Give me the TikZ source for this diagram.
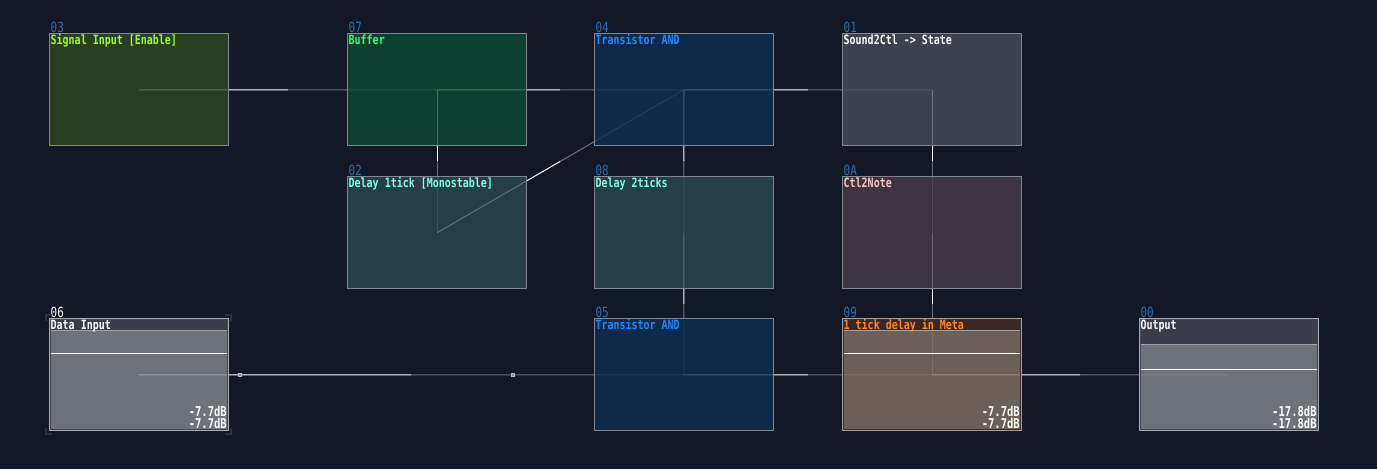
\documentclass[tikz,border=0pt]{standalone}
\usepackage{fontspec}
\usetikzlibrary{calc}
\newfontfamily\pix{DejaVu Sans Mono}[FakeStretch=0.78]
\definecolor{bgc}{HTML}{131826}
\definecolor{bord}{HTML}{80888F}
\definecolor{meterbord}{HTML}{A8AAB2}
\definecolor{meterbordb}{HTML}{AA9C98}
\definecolor{cold}{HTML}{6B707C}
\definecolor{idblue}{HTML}{2E6DB0}
\definecolor{fSig}{HTML}{304B23}
\definecolor{fBuf}{HTML}{0F4B33}
\definecolor{fAnd}{HTML}{0F2E54}
\definecolor{fCtl}{HTML}{494D58}
\definecolor{fDel}{HTML}{2B4951}
\definecolor{fNote}{HTML}{483D49}
\definecolor{hGray}{HTML}{444653}
\definecolor{bGray}{HTML}{858991}
\definecolor{hBrown}{HTML}{452D22}
\definecolor{bBrown}{HTML}{827167}
\definecolor{sepc}{HTML}{A0A2AA}
\definecolor{tSig}{HTML}{9CFF1A}
\definecolor{tBuf}{HTML}{33FF6A}
\definecolor{tAnd}{HTML}{1A8CFF}
\definecolor{tDel}{HTML}{80FFE0}
\definecolor{tNote}{HTML}{FFC4C0}
\definecolor{tMeta}{HTML}{FF8A1A}
\definecolor{dotc}{HTML}{8C909C}
\definecolor{selc}{HTML}{2C3040}
\pgfdeclarelayer{bglayer}
\pgfdeclarelayer{linklayer}
\pgfsetlayers{bglayer,linklayer,main}
\newcommand{\svmod}[7]{%
  \node[modbox, fill=#4] (#1) at (#3) {};
  \node[idlab, text=#7] at ([xshift=1pt,yshift=1.5pt]#1.north west) {#2};
  \node[titlelab, text=#5] at ([xshift=1pt,yshift=-10.5pt]#1.north west) {#6};
}
\newcommand{\svlink}[2]{%
  \begin{pgfonlayer}{linklayer}
    \draw[linkhot] (#1.center) -- ($(#1.center)!0.5!(#2.center)$);
    \draw[linkcold] ($(#1.center)!0.5!(#2.center)$) -- (#2.center);
  \end{pgfonlayer}
}
\newcommand{\svmeter}[6]{%
  \begin{scope}[xshift=#1pt]
    \fill[#2, fill opacity=0.8] (50,319.3) rectangle (228,#4);
    \fill[#3, fill opacity=0.8] (50,#4) rectangle (228,430.3);
    \draw[#2, line width=1pt] (50.5,319.8) rectangle (227.5,429.8);
    \draw[sepc, line width=1pt] (51,#4) -- (227,#4);
    \draw[white, line width=1pt] (51,#5) -- (227,#5);
    \draw[#6, line width=1pt] (49.5,318.8) rectangle (228.5,430.8);
  \end{scope}
}
\begin{document}
\begin{tikzpicture}[x=1pt,y=-1pt,
  modbox/.style={draw=bord, line width=1pt, minimum width=179pt, minimum height=112pt,
    inner sep=0pt, outer sep=0pt, fill opacity=0.78, draw opacity=1},
  meterbox/.style={minimum width=179pt, minimum height=112pt,
    inner sep=0pt, outer sep=0pt},
  idlab/.style={font=\pix\fontsize{14}{14}\selectfont, inner sep=0pt, anchor=base west},
  titlelab/.style={font=\pix\bfseries\fontsize{12.8}{13}\selectfont, inner sep=0pt, anchor=base west},
  dblab/.style={font=\pix\bfseries\fontsize{13.5}{14}\selectfont, inner sep=0pt, anchor=base east, text=white},
  linkhot/.style={draw=white, line width=1pt},
  linkcold/.style={draw=cold, line width=1pt},
  dotbox/.style={fill=dotc, draw=dotc!60!white, line width=0.5pt, minimum size=3pt, inner sep=0pt},
  selmark/.style={draw=selc, line width=2pt}
]
\begin{pgfonlayer}{bglayer}
  \fill[bgc] (0,0) rectangle (1377,469);
\end{pgfonlayer}
\useasboundingbox (0,0) rectangle (1377,469);

% top row
\svmod{m03}{03}{139,89.8}{fSig}{tSig}{Signal Input [Enable]}{idblue}
\svmod{m07}{07}{437,89.8}{fBuf}{tBuf}{Buffer}{idblue}
\svmod{m04}{04}{683.8,89.8}{fAnd}{tAnd}{Transistor AND}{idblue}
\svmod{m01}{01}{932,89.8}{fCtl}{white}{Sound2Ctl -> State}{idblue}
% middle row
\svmod{m02}{02}{437,232.8}{fDel}{tDel}{Delay 1tick [Monostable]}{idblue}
\svmod{m08}{08}{683.8,232.8}{fDel}{tDel}{Delay 2ticks}{idblue}
\svmod{m0A}{0A}{932,232.8}{fNote}{tNote}{Ctl2Note}{idblue}
% bottom row
\svmod{m05}{05}{683.8,374.8}{fAnd}{tAnd}{Transistor AND}{idblue}

% meter modules
\node[meterbox] (m06) at (139,374.8) {};
\svmeter{0}{hGray}{bGray}{330.5}{353.5}{meterbord}
\node[idlab, text=white] at ([xshift=1pt,yshift=1.5pt]m06.north west) {06};
\node[titlelab, text=white] at ([xshift=1pt,yshift=-10.5pt]m06.north west) {Data Input};
\node[dblab] at ([xshift=-1.5pt,yshift=14.8pt]m06.south east) {-7.7dB};
\node[dblab] at ([xshift=-1.5pt,yshift=2.8pt]m06.south east) {-7.7dB};
\draw[selmark] (46,321) -- (46,315) -- (52,315);
\draw[selmark] (225,315) -- (231,315) -- (231,321);
\draw[selmark] (46,428) -- (46,434) -- (52,434);
\draw[selmark] (225,434) -- (231,434) -- (231,428);

\node[meterbox] (m09) at (932,374.8) {};
\svmeter{793}{hBrown}{bBrown}{330.5}{353.5}{meterbordb}
\node[idlab, text=idblue] at ([xshift=1pt,yshift=1.5pt]m09.north west) {09};
\node[titlelab, text=tMeta] at ([xshift=1pt,yshift=-10.5pt]m09.north west) {1 tick delay in Meta};
\node[dblab] at ([xshift=-1.5pt,yshift=14.8pt]m09.south east) {-7.7dB};
\node[dblab] at ([xshift=-1.5pt,yshift=2.8pt]m09.south east) {-7.7dB};

\node[meterbox] (m00) at (1228.8,374.8) {};
\svmeter{1089.8}{hGray}{bGray}{344.5}{369.5}{meterbord}
\node[idlab, text=idblue] at ([xshift=1pt,yshift=1.5pt]m00.north west) {00};
\node[titlelab, text=white] at ([xshift=1pt,yshift=-10.5pt]m00.north west) {Output};
\node[dblab] at ([xshift=-1.5pt,yshift=14.8pt]m00.south east) {-17.8dB};
\node[dblab] at ([xshift=-1.5pt,yshift=2.8pt]m00.south east) {-17.8dB};

% connectors
\svlink{m03}{m07}
\svlink{m07}{m04}
\svlink{m04}{m01}
\svlink{m07}{m02}
\svlink{m02}{m04}
\svlink{m04}{m08}
\svlink{m08}{m05}
\svlink{m01}{m0A}
\svlink{m0A}{m09}
\svlink{m06}{m05}
\svlink{m05}{m09}
\svlink{m09}{m00}

% small markers on the data line
\node[dotbox] (dot1) at (239.5,375) {};
\node[dotbox] (dot2) at (512.5,375) {};
\end{tikzpicture}
\end{document}
